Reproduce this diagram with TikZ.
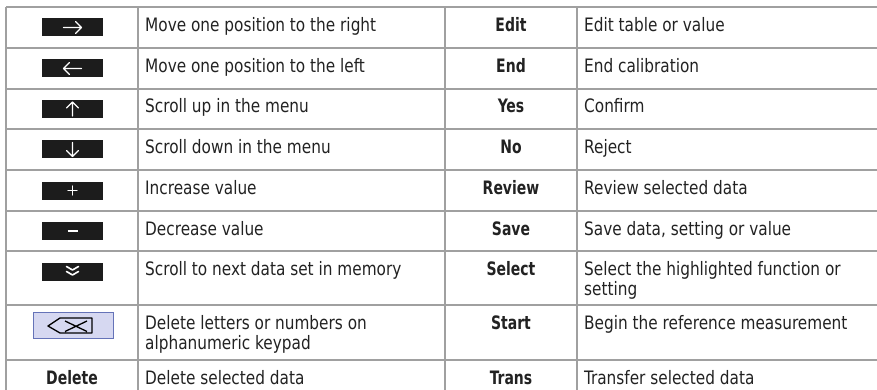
\documentclass[tikz,border=0pt]{standalone}
\usepackage{fontspec}
\setmainfont{DejaVu Sans Condensed}[FakeStretch=0.92,
  BoldFeatures={FakeStretch=0.84}]
\definecolor{rule}{HTML}{A0A0A0}
\definecolor{keyblack}{HTML}{1C1C1C}
\definecolor{keyfill}{HTML}{D6D8F1}
\definecolor{keyedge}{HTML}{6573B8}
\definecolor{ink}{HTML}{222222}
\tikzset{
  grid/.style={draw=rule, line width=1.4pt},
  desc/.style={anchor=base west, inner sep=0pt, text=ink,
    font=\fontsize{18.5}{18.5}\selectfont},
  lbl/.style={anchor=base, inner sep=0pt, text=ink,
    font=\fontsize{18.5}{18.5}\selectfont\bfseries},
  keybox/.style={fill=keyblack, minimum width=61pt, minimum height=18pt,
    inner sep=0pt},
  glyph/.style={draw=white, line width=1.4pt, line cap=round, line join=round},
}
\newcommand{\twolines}[2]{\begin{tabular}[t]{@{}l@{}}#1\\#2\end{tabular}}
\begin{document}
\begin{tikzpicture}[x=1pt,y=-1pt]
\useasboundingbox (0,0) rectangle (877,390);

% table rules
\foreach \yy in {7,48,89,129,170,211,251,305,360}
  \draw[grid] (6,\yy) -- (877,\yy);
\foreach \xx in {6,138,445,577}
  \draw[grid] (\xx,7) -- (\xx,390);

% key column
\node[keybox] (k1) at (72.5,27.5) {};
\draw[glyph, shift={(k1.center)}] (-9,0) -- (9,0) (3,-6) -- (9,0) -- (3,6);
\node[keybox] (k2) at (72.5,68.5) {};
\draw[glyph, shift={(k2.center)}] (9,0) -- (-9,0) (-3,-6) -- (-9,0) -- (-3,6);
\node[keybox] (k3) at (72.5,109) {};
\draw[glyph, shift={(k3.center)}] (0,7) -- (0,-7) (-6,-1) -- (0,-7) -- (6,-1);
\node[keybox] (k4) at (72.5,149.5) {};
\draw[glyph, shift={(k4.center)}] (0,-7) -- (0,7) (-6,1) -- (0,7) -- (6,1);
\node[keybox] (k5) at (72.5,190.5) {};
\draw[glyph, shift={(k5.center)}] (-4.5,0) -- (4.5,0) (0,-4.5) -- (0,4.5);
\node[keybox] (k6) at (72.5,231) {};
\draw[glyph, line width=2.2pt, line cap=butt, shift={(k6.center)}] (-5,0) -- (5,0);
\node[keybox] (k7) at (72.5,271.5) {};
\draw[glyph, line width=1.6pt, shift={(k7.center)}]
  (-6,-5) -- (0,-1.5) -- (6,-5) (-6,0) -- (0,3.5) -- (6,0);

% backspace key
\node[fill=keyfill, draw=keyedge, line width=1pt, minimum width=80pt,
  minimum height=26pt, inner sep=0pt] (k8) at (73,325.5) {};
\draw[black, line width=1.3pt, line join=round, shift={(k8.center)}]
  (-25,0.5) -- (-13,-7.5) -- (19,-7.5) -- (19,7.5) -- (-13,7.5) -- cycle
  (-8,-4.5) -- (14,6) (-8,6) -- (14,-4.5);
\node[lbl] (k9) at (72,384) {Delete};

% descriptions, left half
\node[desc] (d1) at (145,31.5) {Move one position to the right};
\node[desc] (d2) at (145,72.5) {Move one position to the left};
\node[desc] (d3) at (145,113) {Scroll up in the menu};
\node[desc] (d4) at (145,153.5) {Scroll down in the menu};
\node[desc] (d5) at (145,194.5) {Increase value};
\node[desc] (d6) at (145,235) {Decrease value};
\node[desc] (d7) at (145,275.5) {Scroll to next data set in memory};
\node[desc] (d8) at (145,329.5) {\twolines{Delete letters or numbers on}{alphanumeric keypad}};
\node[desc] (d9) at (145,384.5) {Delete selected data};

% labels, right half
\node[lbl] (l1) at (511,31.5) {Edit};
\node[lbl] (l2) at (511,72.5) {End};
\node[lbl] (l3) at (511,113) {Yes};
\node[lbl] (l4) at (511,153.5) {No};
\node[lbl] (l5) at (511,194.5) {Review};
\node[lbl] (l6) at (511,235) {Save};
\node[lbl] (l7) at (511,275.5) {Select};
\node[lbl] (l8) at (511,329.5) {Start};
\node[lbl] (l9) at (511,384.5) {Trans};

% descriptions, right half
\node[desc] (e1) at (584,31.5) {Edit table or value};
\node[desc] (e2) at (584,72.5) {End calibration};
\node[desc] (e3) at (584,113) {Confirm};
\node[desc] (e4) at (584,153.5) {Reject};
\node[desc] (e5) at (584,194.5) {Review selected data};
\node[desc] (e6) at (584,235) {Save data, setting or value};
\node[desc] (e7) at (584,275.5) {\twolines{Select the highlighted function or}{setting}};
\node[desc] (e8) at (584,329.5) {Begin the reference measurement};
\node[desc] (e9) at (584,384.5) {Transfer selected data};
\end{tikzpicture}
\end{document}
